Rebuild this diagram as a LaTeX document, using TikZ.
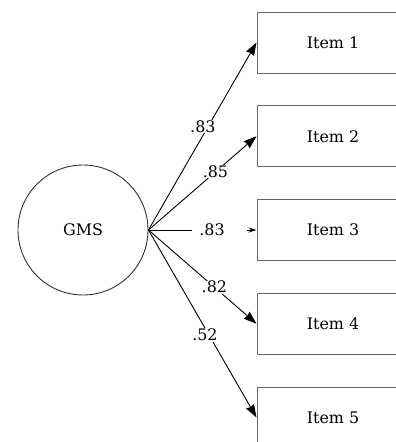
\documentclass[tikz,border=0pt]{standalone}
\usepackage{fontspec}
\setmainfont{DejaVu Serif}
\usetikzlibrary{arrows.meta,positioning}
\tikzset{
  latent/.style={
    shape = circle,
    draw = black!80,
    minimum size = 130pt,
    inner sep = 0pt,
    line width = 0.9pt
  },
  item/.style={
    shape = rectangle,
    draw = black!60,
    minimum width = 152pt,
    minimum height = 61pt,
    line width = 1pt
  },
}
\tikzset{
  load/.style={
    -{Stealth[length=13pt,width=9pt,inset=1pt]},
    line width = 0.9pt
  },
  coef/.style={
    fill = white,
    inner sep = 0.5pt
  },
  every picture/.style = {
    font=\fontsize{15.9}{18}\selectfont,
    text = black
  }
}

\begin{document}
\begin{tikzpicture}[x=1pt,y=-1pt]
  \useasboundingbox (0,0) rectangle (396,442);
  \begin{scope}
    \clip (0,0) rectangle (396,442);
    \node[latent] (gms) at (83,230) {GMS};
    \foreach \i in {1,...,5}{
      \node[item] (item\i) at (333,{42.5+93.75*(\i-1)}) {Item \i};
    }
    \foreach \i/\w/\p/\s in {1/.83/0.55/-5, 2/.85/0.62/0, 4/.82/0.61/0, 5/.52/0.56/-4}{
      \draw[load] (gms.east) -- (item\i.west) node[coef,pos=\p,xshift=\s pt] (w\i) {\w};
    }
    % short tip, label box hides most of the line
    \draw[-{Stealth[length=8pt,width=5pt]}, line width=0.9pt] (gms.east) -- (item3.west)
      node[coef,pos=0.656,text width=40pt,align=left,inner xsep=7.5pt] (w3) {.83};
  \end{scope}
\end{tikzpicture}
\end{document}
